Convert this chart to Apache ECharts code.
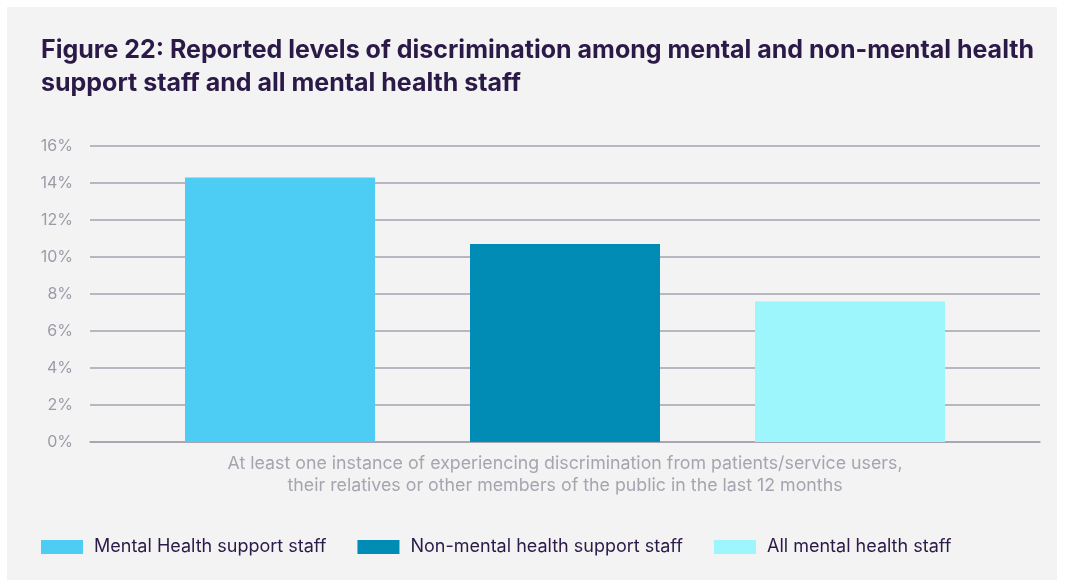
<!DOCTYPE html>
<html>
<head>
<meta charset="utf-8">
<script src="https://cdn.jsdelivr.net/npm/echarts@6/dist/echarts.min.js"></script>
<style>
  html, body { margin: 0; padding: 0; background: #ffffff; }
  #chart { position: absolute; left: 7px; top: 7px; width: 1050px; height: 573px; background: #f3f3f3; }
</style>
</head>
<body>
<div id="chart"></div>
<script>
// Survey result: share reporting discrimination, by staff group (%)
const categories = ['At least one instance of experiencing discrimination from patients/service users,\ntheir relatives or other members of the public in the last 12 months'];
const seriesNames = ['Mental Health support staff', 'Non-mental health support staff', 'All mental health staff'];
const seriesColors = ['#4dcdf4', '#008cb4', '#9ef6fd'];
const mhSupportStaff = [14.3];
const nonMhSupportStaff = [10.7];
const allMhStaff = [7.6];
const yTicks = { min: 0, max: 16, interval: 2 };

const seriesData = [mhSupportStaff, nonMhSupportStaff, allMhStaff];

const chart = echarts.init(document.getElementById('chart'));
chart.setOption({
  backgroundColor: '#f3f3f3',
  animation: false,
  title: {
    text: 'Figure 22: Reported levels of discrimination among mental and non-mental health\nsupport staff and all mental health staff',
    left: 29,
    top: 22,
    textStyle: {
      fontFamily: 'Inter',
      fontWeight: 'bold',
      fontSize: 25,
      lineHeight: 33,
      color: '#2b1a47'
    }
  },
  legend: {
    left: 29,
    bottom: 19,
    itemWidth: 42,
    itemHeight: 14,
    itemGap: 31,
    icon: 'rect',
    data: seriesNames,
    textStyle: { fontFamily: 'Inter', fontSize: 18, color: '#2b1a47', padding: [0, 0, 0, 6] }
  },
  grid: { left: 83, right: 17, top: 139, bottom: 138 },
  xAxis: {
    type: 'category',
    data: categories,
    axisLine: { show: true, lineStyle: { color: '#a3a3b0', width: 1.5 } },
    axisTick: { show: false },
    axisLabel: {
      margin: 11,
      fontFamily: 'Inter',
      fontSize: 17.8,
      lineHeight: 22,
      color: '#a5a5b0',
      align: 'center'
    }
  },
  yAxis: {
    type: 'value',
    min: yTicks.min,
    max: yTicks.max,
    interval: yTicks.interval,
    axisLine: { show: false },
    axisTick: { show: false },
    splitLine: { lineStyle: { color: '#a3a3b0', width: 1.5 } },
    axisLabel: {
      margin: 17,
      fontFamily: 'Inter',
      fontSize: 16,
      color: '#9b9ba8',
      formatter: v => v + '%'
    }
  },
  series: seriesNames.map((name, i) => ({
    name,
    type: 'bar',
    data: seriesData[i],
    itemStyle: { color: seriesColors[i] },
    barCategoryGap: '20%',
    barGap: '50%'
  }))
});
</script>
</body>
</html>
